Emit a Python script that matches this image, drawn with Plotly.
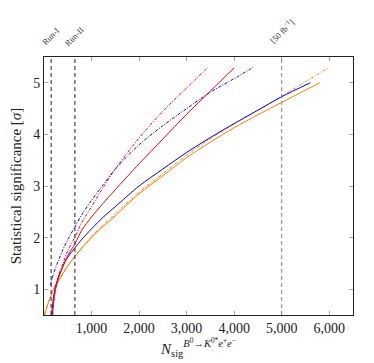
import plotly.graph_objects as go

# signal yield N_sig and statistical significance for each scenario
blue_solid_n = [160, 200, 250, 300, 400, 500, 650, 800, 1000, 1250, 1500, 2000, 2500, 3000, 3500, 4000, 4500, 5000, 5600]
blue_solid_sig = [0.5, 0.85, 1.08, 1.22, 1.45, 1.62, 1.8, 1.97, 2.17, 2.4, 2.6, 3.0, 3.33, 3.65, 3.94, 4.21, 4.47, 4.73, 5.0]

blue_dash_n = [135, 200, 300, 400, 500, 650, 800, 1000, 1250, 1500, 2000, 2500, 3000, 3500, 4000, 4400]
blue_dash_sig = [1.08, 1.3, 1.55, 1.77, 1.96, 2.21, 2.45, 2.72, 3.03, 3.33, 3.8, 4.17, 4.5, 4.82, 5.08, 5.3]

red_solid_n = [175, 225, 300, 400, 500, 650, 800, 1000, 1250, 1500, 2000, 2500, 3000, 3500, 4000]
red_solid_sig = [0.5, 0.92, 1.2, 1.45, 1.65, 1.88, 2.15, 2.4, 2.67, 2.93, 3.43, 3.91, 4.39, 4.84, 5.29]

red_dash_n = [185, 235, 300, 400, 500, 650, 800, 1000, 1250, 1500, 2000, 2500, 3000, 3450]
red_dash_sig = [0.5, 0.95, 1.25, 1.5, 1.75, 2.01, 2.3, 2.6, 2.98, 3.33, 3.93, 4.45, 4.9, 5.3]

orange_solid_n = [10, 100, 200, 300, 400, 500, 650, 800, 1000, 1250, 1500, 2000, 2500, 3000, 3500, 4000, 4500, 5000, 5800]
orange_solid_sig = [0.5, 0.76, 1.0, 1.15, 1.3, 1.45, 1.63, 1.8, 2.0, 2.22, 2.42, 2.85, 3.2, 3.55, 3.85, 4.13, 4.38, 4.62, 5.0]

orange_dash_n = [10, 100, 200, 300, 400, 500, 650, 800, 1000, 1250, 1500, 2000, 2500, 3000, 3500, 4000, 4500, 5000, 5500, 6000]
orange_dash_sig = [0.5, 0.77, 1.0, 1.16, 1.31, 1.46, 1.64, 1.81, 2.02, 2.25, 2.46, 2.88, 3.24, 3.6, 3.92, 4.2, 4.47, 4.74, 5.02, 5.3]

# reference luminosity markers
marker_n = [150, 650, 5000]
marker_labels = ['Run-I', 'Run-II', '[50 fb<sup>−1</sup>]']
marker_colors = ['#222222', '#222222', '#808080']

x_ticks = [1000, 2000, 3000, 4000, 5000, 6000]
y_ticks = [1, 2, 3, 4, 5]

DASHDOT = '3px,1.5px,1px,1.5px'
FONT = 'Liberation Serif, DejaVu Serif, serif'

fig = go.Figure()

series = [
    (orange_solid_n, orange_solid_sig, '#ff8000', 'solid'),
    (orange_dash_n, orange_dash_sig, '#ff8000', DASHDOT),
    (blue_solid_n, blue_solid_sig, '#0000ff', 'solid'),
    (blue_dash_n, blue_dash_sig, '#0000ff', DASHDOT),
    (red_solid_n, red_solid_sig, '#ff0000', 'solid'),
    (red_dash_n, red_dash_sig, '#ff0000', DASHDOT),
]
for xs, ys, col, dash in series:
    fig.add_trace(go.Scatter(
        x=xs, y=ys, mode='lines',
        line=dict(color=col, width=1, dash=dash, shape='spline', smoothing=0.8),
        showlegend=False, hoverinfo='skip'
    ))

for n, lab, col in zip(marker_n, marker_labels, marker_colors):
    fig.add_shape(type='line', x0=n, x1=n, y0=0, y1=1, xref='x', yref='paper',
                  line=dict(color=col, width=1, dash='4px,3px'))
    fig.add_annotation(x=n, y=1.08 if n < 1000 else 1.1, xref='x', yref='paper',
                       text=lab, showarrow=False, textangle=-45,
                       xanchor='center', yanchor='middle',
                       font=dict(family=FONT, size=8.5, color='#333333'))

axis_common = dict(
    showline=True, linecolor='#222222', linewidth=1, mirror='ticks',
    ticks='inside', ticklen=4, tickcolor='#aaaaaa',
    showgrid=False, zeroline=False, automargin=False,
    tickfont=dict(family=FONT, size=14, color='#222222'),
)

# the page body adds an 8px offset, so the figure is a bit smaller than the window
fig.update_layout(
    width=366, height=355,
    margin=dict(l=36, r=21, t=49, b=48),
    paper_bgcolor='white', plot_bgcolor='white',
    font=dict(family=FONT, color='#222222'),
    xaxis=dict(
        range=[0, 6500], tickvals=x_ticks, tickformat=',d',
        title=dict(
            text='<i>N</i><sub>sig</sub><sup><i>B</i><sup>0</sup>→<i>K</i><sup>0*</sup><i>e</i><sup>+</sup><i>e</i><sup>−</sup></sup>',
            font=dict(family=FONT, size=15), standoff=4),
        **axis_common
    ),
    yaxis=dict(
        range=[0.5, 5.5], tickvals=y_ticks,
        title=dict(text='Statistical significance [<i>σ</i>]',
                   font=dict(family=FONT, size=15), standoff=10),
        **axis_common
    ),
)

fig.write_html("out.html")
